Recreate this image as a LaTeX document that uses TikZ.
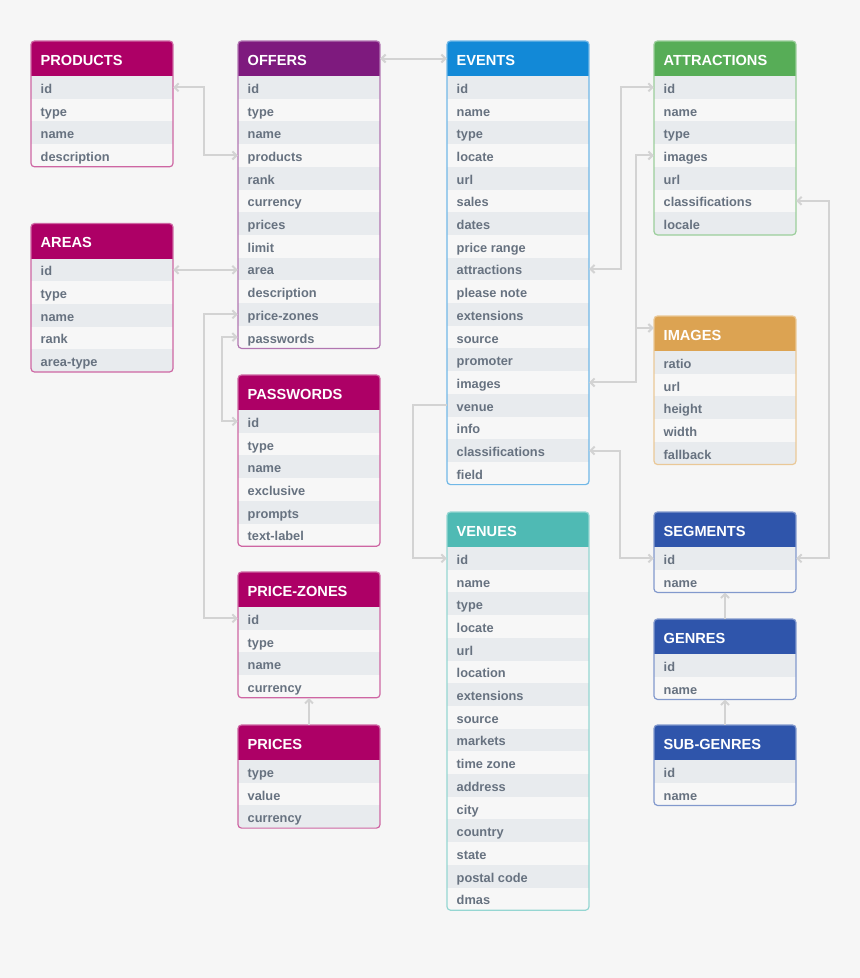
\documentclass[tikz,border=0pt]{standalone}
\usepackage{fontspec}
\setmainfont{Liberation Sans}
\usetikzlibrary{arrows.meta,calc}
\definecolor{bgc}{HTML}{F6F6F6}
\definecolor{rowdark}{HTML}{E8EBEE}
\definecolor{rowlight}{HTML}{F7F7F7}
\definecolor{txtc}{HTML}{677280}
\definecolor{connc}{HTML}{D3D3D3}
\definecolor{mag}{HTML}{AD0066}
\definecolor{purp}{HTML}{7E1A7E}
\definecolor{evblue}{HTML}{1289D7}
\definecolor{grn}{HTML}{57AD57}
\definecolor{orng}{HTML}{DCA352}
\definecolor{tealc}{HTML}{4FBAB4}
\definecolor{dblue}{HTML}{2F55AB}
\tikzset{
  hdrbox/.style={minimum width=142pt, minimum height=35pt, inner sep=0pt, draw=none},
  rowbox/.style={minimum width=142pt, minimum height=22.7pt, inner sep=0pt, draw=none},
  rowtext/.style={anchor=base west, inner sep=0pt, text=txtc, font=\bfseries\fontsize{12.8}{14}\selectfont},
  hdrtext/.style={anchor=base west, inner sep=0pt, text=white, font=\bfseries\fontsize{14.6}{16}\selectfont},
  conn/.style={draw=connc, line width=2pt},
}
\newcommand\dbtable[7]{%
  \pgfmathsetmacro\tbot{#4+35+22.7*#6}
  \begin{scope}
    \clip[rounded corners=3.5pt] (#3,#4) rectangle (#3+142,\tbot);
    \fill[rowlight] (#3,#4) rectangle (#3+142,\tbot);
    \fill[#2] (#3,#4) rectangle (#3+142,#4+35);
    \node[hdrbox] (#1-h) at (#3+71,#4+17.5) {};
    \foreach \r [count=\i] in {#7} {
      \pgfmathsetmacro\ry{#4+35+22.7*(\i-0.5)}
      \ifodd\i\def\rf{rowdark}\else\def\rf{rowlight}\fi
      \node[rowbox, fill=\rf] (#1-\i) at (#3+71,\ry) {};
      \node[rowtext] at (#3+9.5,\ry+6) {\r};
    }
  \end{scope}
  \node[hdrtext] at (#3+9.5,#4+24) {#5};
  \draw[#2!60!white, line width=1.2pt, rounded corners=3.5pt] (#3,#4) rectangle (#3+142,\tbot);
}
\begin{document}
\begin{tikzpicture}[x=1pt,y=-1pt,>={Straight Barb[length=4pt,width=8pt]}]
\fill[bgc] (0,0) rectangle (860,978);
\useasboundingbox (0,0) rectangle (860,978);

\dbtable{products}{mag}{31}{41}{PRODUCTS}{4}{id,type,name,description}
\dbtable{offers}{purp}{238}{41}{OFFERS}{12}{id,type,name,products,rank,currency,prices,limit,area,description,price-zones,passwords}
\dbtable{events}{evblue}{447}{41}{EVENTS}{18}{id,name,type,locate,url,sales,dates,price range,attractions,please note,extensions,source,promoter,images,venue,info,classifications,field}
\dbtable{attractions}{grn}{654}{41}{ATTRACTIONS}{7}{id,name,type,images,url,classifications,locale}
\dbtable{areas}{mag}{31}{223.5}{AREAS}{5}{id,type,name,rank,area-type}
\dbtable{images}{orng}{654}{316}{IMAGES}{5}{ratio,url,height,width,fallback}
\dbtable{passwords}{mag}{238}{375}{PASSWORDS}{6}{id,type,name,exclusive,prompts,text-label}
\dbtable{venues}{tealc}{447}{512}{VENUES}{16}{id,name,type,locate,url,location,extensions,source,markets,time zone,address,city,country,state,postal code,dmas}
\dbtable{segments}{dblue}{654}{512}{SEGMENTS}{2}{id,name}
\dbtable{pricezones}{mag}{238}{572}{PRICE-ZONES}{4}{id,type,name,currency}
\dbtable{genres}{dblue}{654}{619}{GENRES}{2}{id,name}
\dbtable{prices}{mag}{238}{725}{PRICES}{3}{type,value,currency}
\dbtable{subgenres}{dblue}{654}{725}{SUB-GENRES}{2}{id,name}

% connectors
\draw[conn,<->] (products-1.east) -- ++(31,0) |- (offers-4.west);
\draw[conn,<->] (offers-h.east) -- (events-h.west);
\draw[conn,<->] (areas-1.east) -- (areas-1.east -| offers-9.west);
\draw[conn,<->] (offers-11.west) -- ++(-34,0) |- (pricezones-1.west);
\draw[conn,<->] (offers-12.west) -- ++(-16,0) |- (passwords-1.west);
\draw[conn,<->] (events-9.east) -- ++(32,0) |- (attractions-1.west);
\draw[conn,<->] (events-14.east) -- ++(47,0) |- (attractions-4.west);
\coordinate (imgbus) at (636,328);
\draw[conn,->] (imgbus) -- (imgbus -| images-h.west);
\draw[conn,<->] (events-17.east) -- ++(31,0) |- (segments-1.west);
\draw[conn,<->] (attractions-6.east) -- ++(33,0) |- (segments-1.east);
\draw[conn,->] (events-15.west) -- ++(-34,0) |- (venues-1.west);
\draw[conn,->] (prices-h.north) -- (pricezones-4.south);
\draw[conn,->] (genres-h.north) -- (segments-2.south);
\draw[conn,->] (subgenres-h.north) -- (genres-2.south);
\end{tikzpicture}
\end{document}
